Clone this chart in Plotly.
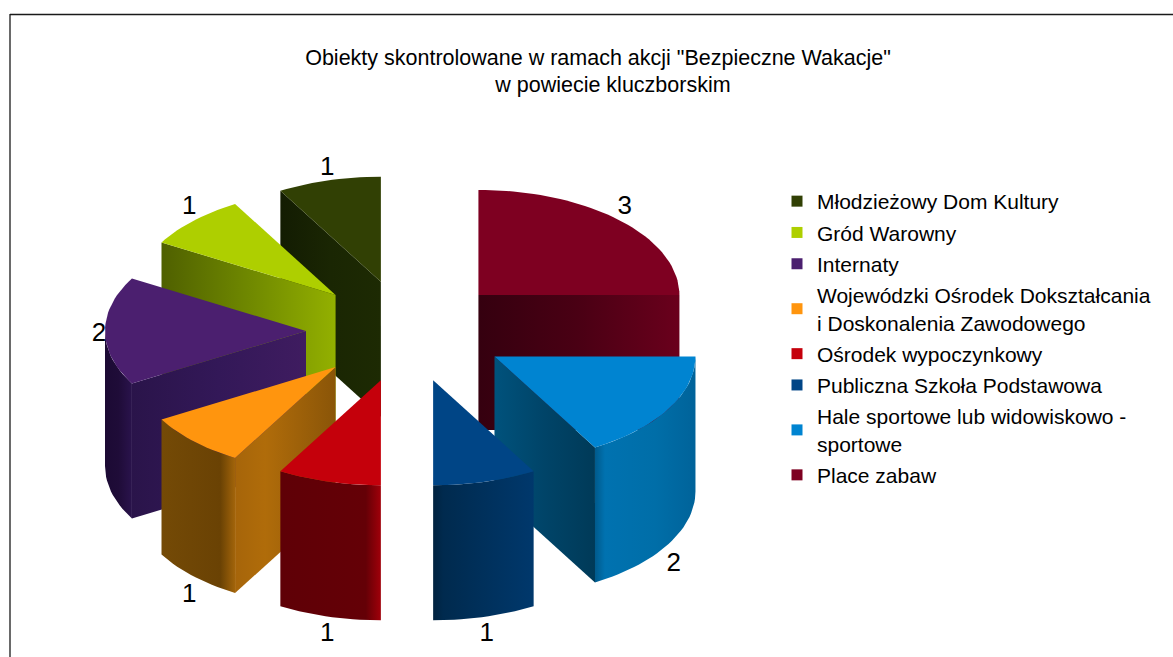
import math
import plotly.graph_objects as go

# Data, in legend order
categories = ["Młodzieżowy Dom Kultury", "Gród Warowny", "Internaty",
              "Wojewódzki Ośrodek Dokształcania<br>i Doskonalenia Zawodowego",
              "Ośrodek wypoczynkowy", "Publiczna Szkoła Podstawowa",
              "Hale sportowe lub widowiskowo -<br>sportowe", "Place zabaw"]
values = [1, 1, 2, 1, 1, 1, 2, 3]
colors = ["#314004", "#aecf00", "#4b1f6f", "#ff950e", "#c5000b", "#004586", "#0084d1", "#7e0021"]

# Side-wall shading, left to right: radial wall, then outer rim
wall_shades = [
    [[0, "#131c02"], [0.5, "#1a2603"], [1, "#1d2a03"]],
    [[0, "#4f6000"], [0.5, "#6f8800"], [1, "#93b000"]],
    [[0, "#2a144a"], [0.5, "#331858"], [1, "#3f1c60"]],
    [[0, "#a6650a"], [0.3, "#b06c0a"], [1, "#8a5508"]],
    [[0, "#5a0005"], [1, "#5a0005"]],
    [[0, "#00223f"], [1, "#003a70"]],
    [[0, "#00527c"], [0.5, "#004468"], [1, "#003a58"]],
    [[0, "#35000f"], [0.5, "#4a0014"], [1, "#6a001c"]],
]
rim_shades = [
    [[0, "#131c02"], [1, "#1d2a03"]],
    [[0, "#4f6000"], [1, "#93b000"]],
    [[0, "#1c0a34"], [0.5, "#1f0c38"], [1, "#2a134c"]],
    [[0, "#744a06"], [0.8, "#6a4204"], [1, "#a2640a"]],
    [[0, "#5f0006"], [0.85, "#640006"], [1, "#a0000a"]],
    [[0, "#00223f"], [0.1, "#002a4e"], [1, "#00386c"]],
    [[0, "#005a8c"], [0.1, "#0072b0"], [0.6, "#006ea8"], [1, "#00639a"]],
    [[0, "#35000f"], [1, "#6a001c"]],
]

# Projection of the exploded 3D pie, in page pixels
CX, CY = 407.0, 331.0
EXPLODE_X, EXPLODE_Y = 101.0, 51.0
RX, RY = 201.0, 105.0
DEPTH = 135.0
LABEL_RX, LABEL_RY = 308.0, 152.0
LABEL_GAP_UP, LABEL_GAP_DOWN = 16.0, 157.0


def arc(ax, ay, a0, a1, dy=0.0):
    steps = max(2, int(abs(a1 - a0) / 2) + 1)
    angles = [a0 + (a1 - a0) * i / (steps - 1) for i in range(steps)]
    return ([ax + RX * math.sin(math.radians(a)) for a in angles],
            [ay - RY * math.cos(math.radians(a)) + dy for a in angles])


def poly(xs, ys, solid=None, shades=None):
    kw = dict(x=xs, y=ys, mode="lines", fill="toself", line=dict(width=0),
              hoverinfo="skip", showlegend=False)
    if solid:
        kw["fillcolor"] = solid
    else:
        kw["fillgradient"] = dict(type="horizontal", colorscale=shades)
    return go.Scatter(**kw)


# Clockwise from 12 o'clock the slices run opposite to the legend order
slices = []
start = 0.0
total = sum(values)
for i in reversed(range(len(values))):
    sweep = 360.0 * values[i] / total
    a0, a1 = start, start + sweep
    mid = math.radians((a0 + a1) / 2)
    ax = CX + EXPLODE_X * math.sin(mid)
    ay = CY - EXPLODE_Y * math.cos(mid)
    slices.append(dict(i=i, a0=a0, a1=a1, ax=ax, ay=ay, mid=mid))
    start = a1

fig = go.Figure()
for s in sorted(slices, key=lambda q: q["ay"]):
    i, a0, a1, ax, ay = s["i"], s["a0"], s["a1"], s["ax"], s["ay"]
    # radial wall that faces the viewer
    for wall_angle, visible in ((a0, math.sin(math.radians(a0)) < -1e-6),
                                (a1, math.sin(math.radians(a1)) > 1e-6)):
        if visible:
            ex = ax + RX * math.sin(math.radians(wall_angle))
            ey = ay - RY * math.cos(math.radians(wall_angle))
            fig.add_trace(poly([ax, ex, ex, ax, ax], [ay, ey, ey + DEPTH, ay + DEPTH, ay],
                               shades=wall_shades[i]))
    # outer rim
    r0, r1 = max(a0, 90.0), min(a1, 270.0)
    if r1 > r0:
        tx, ty = arc(ax, ay, r0, r1)
        bx, by = arc(ax, ay, r0, r1, DEPTH)
        fig.add_trace(poly(tx + bx[::-1] + tx[:1], ty + by[::-1] + ty[:1], shades=rim_shades[i]))
    # top face
    tx, ty = arc(ax, ay, a0, a1)
    fig.add_trace(poly([ax] + tx + [ax], [ay] + ty + [ay], solid=colors[i]))

# Data labels
lx, ly, lt = [], [], []
for s in slices:
    c = math.cos(s["mid"])
    gap = -LABEL_GAP_UP if c > 0.01 else (LABEL_GAP_DOWN if c < -0.01 else 3.0)
    lx.append(CX + LABEL_RX * math.sin(s["mid"]))
    ly.append(CY - LABEL_RY * c + gap)
    lt.append(str(values[s["i"]]))
fig.add_trace(go.Scatter(x=lx, y=ly, text=lt, mode="text", textposition="middle center",
                         textfont=dict(size=26, color="#000000"), hoverinfo="skip", showlegend=False))

# Legend entries
for name, col in zip(categories, colors):
    fig.add_trace(go.Scatter(x=[None], y=[None], mode="markers", name=name, legendgroup=name,
                             marker=dict(symbol="square", size=11, color=col)))

fig.update_layout(
    width=1173, height=657, autosize=False,
    margin=dict(l=0, r=0, t=0, b=0),
    paper_bgcolor="#ffffff", plot_bgcolor="#ffffff",
    font=dict(family="Liberation Sans, Arial, sans-serif", color="#000000", size=21),
    title=dict(text='Obiekty skontrolowane w ramach akcji "Bezpieczne Wakacje"<br>'
                    + "&nbsp;" * 5 + "w powiecie kluczborskim",
               x=598 / 1173, xanchor="center", y=1 - 64.5 / 657, yanchor="top",
               font=dict(size=21.5)),
    xaxis=dict(range=[0, 1173], visible=False, fixedrange=True),
    yaxis=dict(range=[657, 0], visible=False, fixedrange=True),
    legend=dict(x=784 / 1173, y=1 - 181 / 657, xanchor="left", yanchor="top",
                bgcolor="rgba(0,0,0,0)", tracegroupgap=1, font=dict(size=21),
                indentation=-7, itemclick=False, itemdoubleclick=False),
    shapes=[dict(type="line", xref="x", yref="y", x0=10, x1=1173, y0=14.5, y1=14.5,
                 line=dict(color="#1a1a1a", width=1.3)),
            dict(type="line", xref="x", yref="y", x0=10, x1=10, y0=14, y1=657,
                 line=dict(color="#1a1a1a", width=1.3))],
)

fig.write_html("out.html", config=dict(displayModeBar=False),
               post_script="document.body.style.margin='0';")
